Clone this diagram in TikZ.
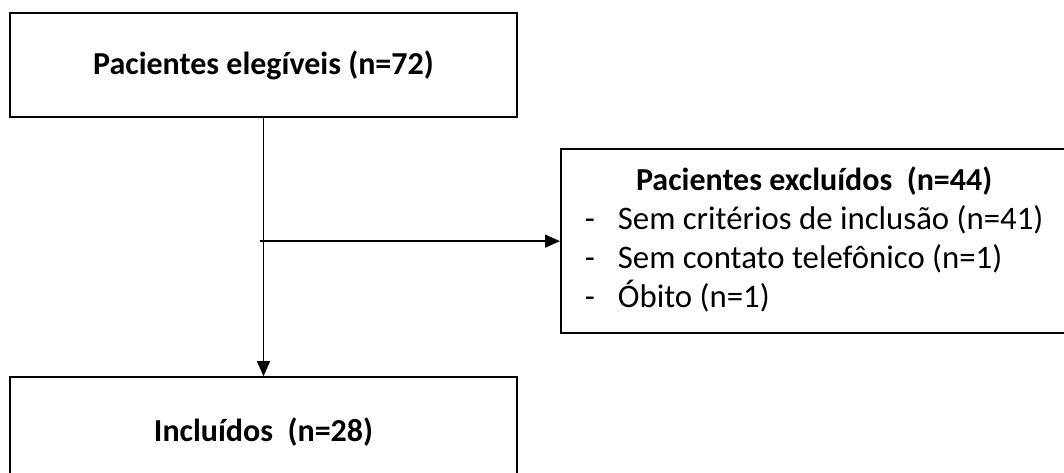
\documentclass[tikz,border=0pt]{standalone}
\usepackage{fontspec}
\setmainfont{Carlito}
\usetikzlibrary{positioning,arrows.meta}

\begin{document}
\begin{tikzpicture}[x=1pt,y=1pt,
  every node/.style={font=\fontsize{32}{39}\selectfont},
  stage/.style={draw,line width=2.3pt,minimum width=507pt,minimum height=104pt,inner sep=0pt},
  flow/.style={-{Triangle[length=15pt,width=13pt]},line width=1.3pt}]
  \clip (0,0) rectangle (1064,473);
  \node[stage] (Elegiveis) at (263.5,408) {\textbf{Pacientes elegíveis (n=72)}};
  \node[stage,minimum height=110pt,below=258pt of Elegiveis] (Incluidos) {\textbf{Incluídos\ \ (n=28)}};
  \node[stage,minimum width=506pt,minimum height=184pt,anchor=north west,
        font=\fontsize{32.8}{39}\selectfont] (Excluidos) at (560,325)
    {\begin{tabular}{@{}l@{\hspace{23pt}}l@{}}
       \multicolumn{2}{c}{\fontsize{32}{39}\selectfont\textbf{Pacientes excluídos\ \ (n=44)}}\\
       - & Sem critérios de inclusão (n=41)\\
       - & Sem contato telefônico (n=1)\\
       - & Óbito (n=1)
     \end{tabular}};

  \draw[flow] (Elegiveis) -- (Incluidos);
  \draw[flow] ([xshift=-4pt]Elegiveis.south |- Excluidos.west) -- (Excluidos);
\end{tikzpicture}
\end{document}
